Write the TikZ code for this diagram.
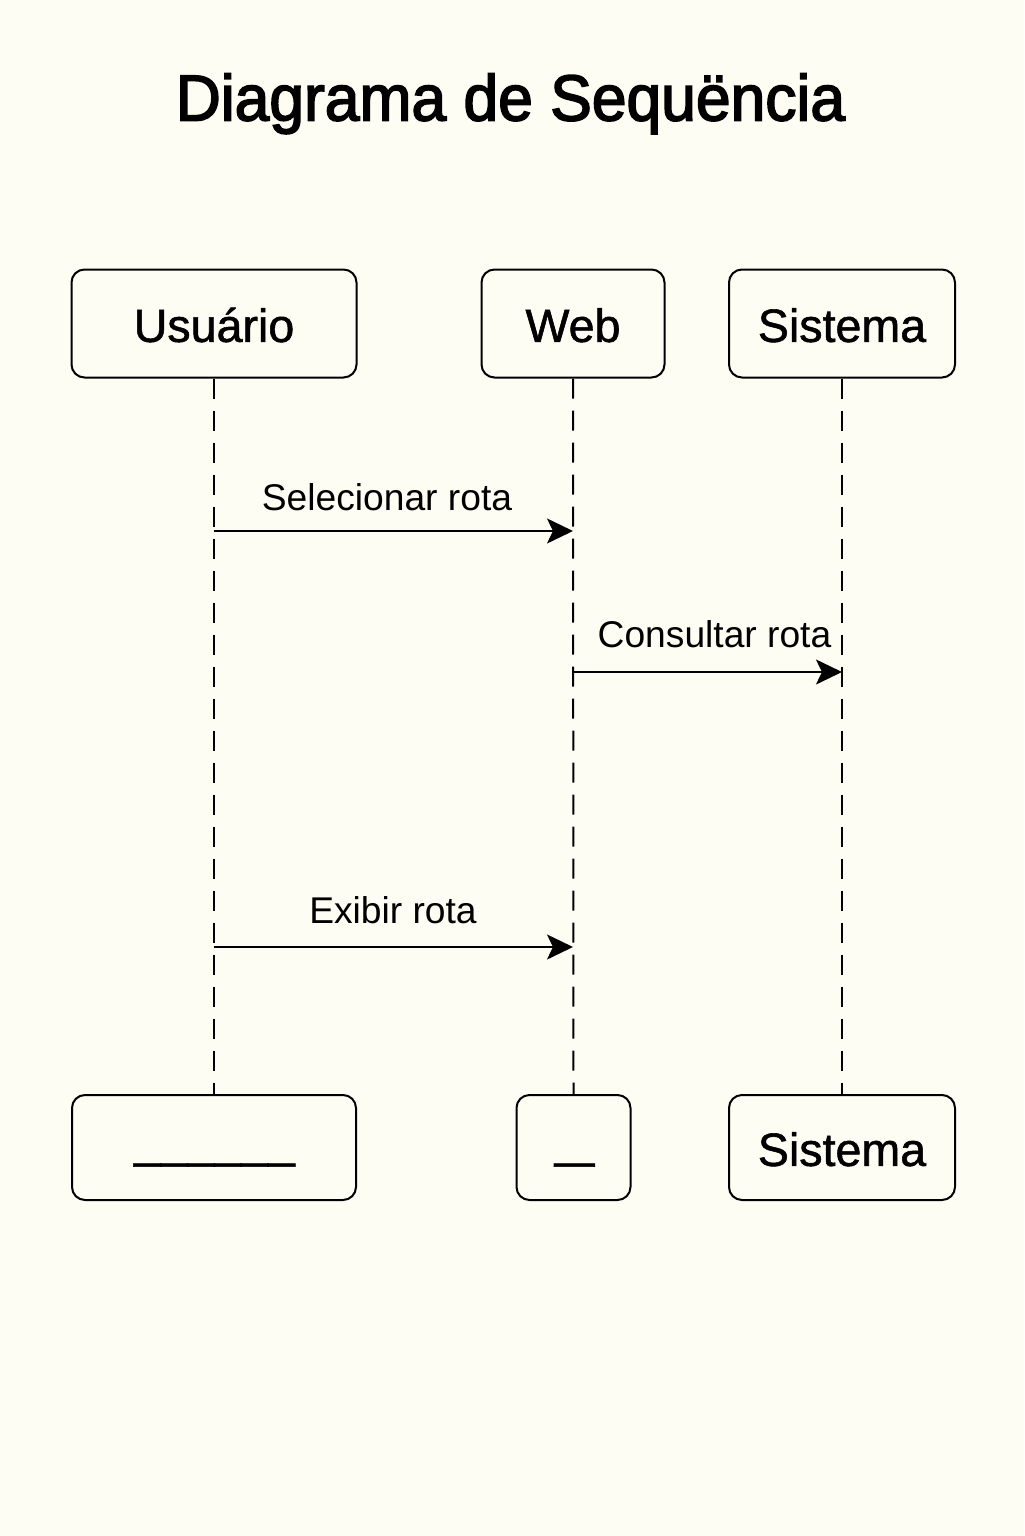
\documentclass[tikz,border=0pt]{standalone}
\usepackage{fontspec}
\setmainfont{Liberation Sans}
\newfontfamily\titlefont{Liberation Sans}[FakeBold=2.5,FakeStretch=0.96]
\newfontfamily\boxfont{Liberation Sans}[FakeBold=1.2]
\usetikzlibrary{arrows.meta}
\definecolor{bgcream}{RGB}{254,253,243}
\tikzset{
  actor/.style={draw=black, line width=1pt, rounded corners=6.5pt, inner sep=0pt,
    minimum height=54pt, text height=18.4pt, text depth=0pt,
    font=\boxfont\fontsize{23.3pt}{28pt}\selectfont},
  actorlow/.style={actor, minimum height=52.5pt},
  life/.style={line width=1pt, dash pattern=on 10pt off 6pt},
  msg/.style={line width=1pt, -{Stealth[length=13pt,width=12.5pt,inset=3pt]}},
  msglabel/.style={anchor=base, inner sep=0pt, font=\fontsize{18.6pt}{22pt}\selectfont},
  under/.style={anchor=base, inner sep=0pt, font=\boxfont\fontsize{24.1pt}{28pt}\selectfont}
}
\begin{document}
\begin{tikzpicture}[x=0.5pt,y=-0.5pt]
\fill[bgcream] (0,0) rectangle (1024,1536);
\useasboundingbox (0,0) rectangle (1024,1536);

\node[anchor=base, inner sep=0pt, font=\titlefont\fontsize{32.5pt}{38pt}\selectfont] (title) at (510.5,120.5) {Diagrama de Sequëncia};

% top actors
\node[actor, minimum width=142.5pt] (u) at (214,323.5) {Usuário};
\node[actor, minimum width=91.5pt] (w) at (573,323.5) {Web};
\node[actor, minimum width=113pt] (s) at (842,323.5) {Sistema};

% bottom actors
\node[actorlow, minimum width=142pt] (u2) at (214,1147.5) {};
\node[actorlow, minimum width=57pt] (w2) at (573.5,1147.5) {};
\node[actorlow, minimum width=113pt] (s2) at (842,1147.5) {Sistema};

\node[under] (u2t) at (214.5,1157) {\_\_\_\_\_\_};
\node[under] (w2t) at (574.5,1157) {\scalebox{1.44}[1]{\_}};

% lifelines
\draw[life] (u.south) -- (u2.north);
\draw[life] (w.south) -- (w2.north);
\draw[life] (s.south) -- (s2.north);

% message rows
\coordinate (m1) at (0,531);
\coordinate (m2) at (0,672);
\coordinate (m3) at (0,947);

\draw[msg] (u.south |- m1) -- (w.south |- m1);
\draw[msg] (w.south |- m2) -- (s.south |- m2);
\draw[msg] (u.south |- m3) -- (w.south |- m3);

\node[msglabel] (l1) at (387,510) {Selecionar rota};
\node[msglabel] (l2) at (714.5,647.5) {Consultar rota};
\node[msglabel] (l3) at (393,923.5) {Exibir rota};
\end{tikzpicture}
\end{document}
